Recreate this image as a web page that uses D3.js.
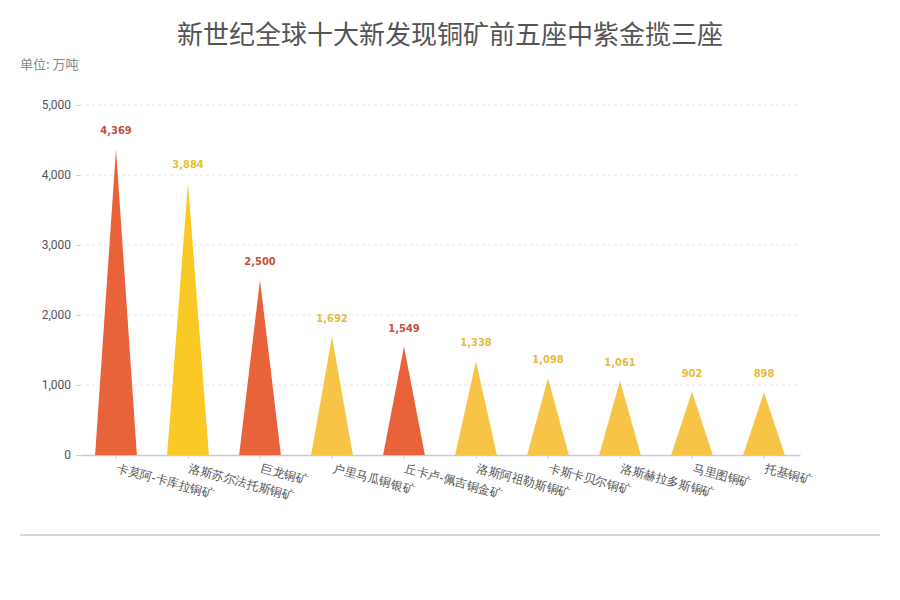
<!DOCTYPE html>
<html>
<head>
<meta charset="utf-8">
<script src="https://cdn.jsdelivr.net/npm/d3@7/dist/d3.min.js"></script>
<style>
  body { margin: 0; background: #fff; }
  svg { display: block; font-family: "Noto Sans CJK SC", "Noto Sans", sans-serif; }
</style>
</head>
<body>
<div id="chart"></div>
<script>
// data
var mines = ["卡莫阿-卡库拉铜矿", "洛斯苏尔法托斯铜矿", "巨龙铜矿", "户里马瓜铜银矿", "丘卡卢-佩吉铜金矿",
             "洛斯阿祖勒斯铜矿", "卡斯卡贝尔铜矿", "洛斯赫拉多斯铜矿", "马里图铜矿", "托基铜矿"];
var reserves = [4369, 3884, 2500, 1692, 1549, 1338, 1098, 1061, 902, 898];
var groups = ["red", "gold", "red", "pale", "red", "pale", "pale", "pale", "pale", "pale"];
var yTicks = [0, 1000, 2000, 3000, 4000, 5000];

var fills = {red: "#e8623a", gold: "#fac925", pale: "#f7c447"};
var labelColors = {red: "#c4503a", gold: "#e9c02c", pale: "#e6bb3c"};

var width = 900, height = 600;
var margin = {top: 105, right: 100, bottom: 145, left: 80};

var svg = d3.select("#chart").append("svg")
    .attr("width", width)
    .attr("height", height);

// title and unit
svg.append("text")
    .attr("x", 450).attr("y", 44)
    .attr("text-anchor", "middle")
    .style("font-size", "26px")
    .style("fill", "#555")
    .text("新世纪全球十大新发现铜矿前五座中紫金揽三座");

svg.append("text")
    .attr("x", 20).attr("y", 69)
    .style("font-size", "13px")
    .style("fill", "#888")
    .text("单位: 万吨");

var x = d3.scaleBand()
    .domain(mines)
    .range([margin.left, width - margin.right])
    .padding(0);

var y = d3.scaleLinear()
    .domain([0, 5000])
    .range([height - margin.bottom, margin.top]);

// grid lines
svg.append("g")
    .selectAll("line")
    .data(yTicks.slice(1))
    .enter().append("line")
    .attr("x1", margin.left).attr("x2", width - margin.right)
    .attr("y1", d => y(d)).attr("y2", d => y(d))
    .attr("stroke", "#e6e6e6")
    .attr("stroke-dasharray", "3,3");

// y axis
var yAxis = svg.append("g")
    .attr("transform", "translate(" + margin.left + ",0)")
    .call(d3.axisLeft(y).tickValues(yTicks).tickFormat(d3.format(",")).tickSize(4).tickPadding(5));
yAxis.select(".domain").remove();
yAxis.selectAll(".tick line").attr("stroke", "#ccc");
yAxis.selectAll("text")
    .style("font-size", "12px")
    .style("fill", "#555")
    .style("font-family", "Roboto, sans-serif");

// x axis
var xAxis = svg.append("g")
    .attr("transform", "translate(0," + y(0) + ")")
    .call(d3.axisBottom(x).tickSize(4).tickSizeOuter(0));
xAxis.select(".domain").attr("stroke", "#ccc").attr("stroke-width", 1.5);
xAxis.selectAll(".tick line").attr("stroke", "#ccc");
xAxis.selectAll("text")
    .attr("text-anchor", "start")
    .attr("dy", 0)
    .attr("y", 0)
    .attr("transform", "translate(0,17) rotate(15)")
    .style("font-size", "12px")
    .style("fill", "#555");

// triangular spikes
var half = x.bandwidth() * 0.29;
svg.append("g")
    .selectAll("path")
    .data(mines)
    .enter().append("path")
    .attr("d", function(d, i) {
        var cx = x(d) + x.bandwidth() / 2;
        return "M" + (cx - half) + "," + y(0) + "L" + cx + "," + y(reserves[i]) + "L" + (cx + half) + "," + y(0) + "Z";
    })
    .attr("fill", (d, i) => fills[groups[i]]);

// value labels
svg.append("g")
    .selectAll("text")
    .data(mines)
    .enter().append("text")
    .attr("x", d => x(d) + x.bandwidth() / 2)
    .attr("y", (d, i) => y(reserves[i]) - 15)
    .attr("text-anchor", "middle")
    .style("font-family", "'DejaVu Sans Condensed', Roboto, sans-serif")
    .style("font-weight", "bold")
    .style("font-size", "11px")
    .style("fill", (d, i) => labelColors[groups[i]])
    .text((d, i) => d3.format(",")(reserves[i]));

// bottom rule
svg.append("line")
    .attr("x1", 20).attr("x2", 880)
    .attr("y1", 535).attr("y2", 535)
    .attr("stroke", "#d9d9d9")
    .attr("stroke-width", 2);
</script>
</body>
</html>
